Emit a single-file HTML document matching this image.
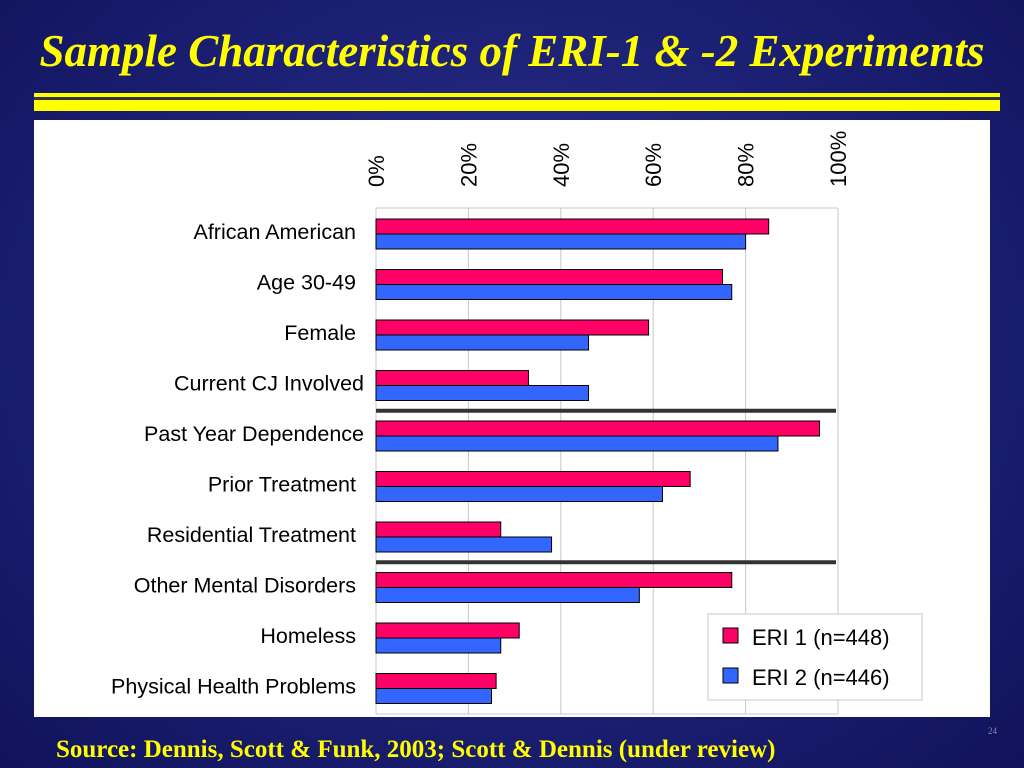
<!DOCTYPE html>
<html><head><meta charset="utf-8"><style>
html,body{margin:0;padding:0;width:1024px;height:768px;overflow:hidden;background:#1c1c6c;}
#slide{position:relative;width:1024px;height:768px;background:radial-gradient(ellipse at 50% 45%,#2c3590 0%,#1b1f72 60%,#10125a 100%);}
#title{position:absolute;left:0;top:25px;width:1024px;text-align:center;font-family:"Liberation Serif",serif;font-style:italic;font-weight:bold;font-size:45px;color:#ffff00;white-space:nowrap;}
#source{position:absolute;left:56px;top:736px;font-family:"Liberation Serif",serif;font-weight:bold;font-size:25px;color:#ffff00;white-space:nowrap;}
#pagenum{position:absolute;left:988px;top:726px;font-family:"Liberation Serif",serif;font-size:9px;color:#8888aa;}
svg{position:absolute;left:0;top:0;}
</style></head><body>
<div id="slide">
<div id="title">Sample Characteristics of ERI-1 &amp; -2 Experiments</div>
<svg id="chart" width="1024" height="768">
<rect x="34" y="93" width="966" height="4" fill="#ffff00"/>
<rect x="34" y="97" width="966" height="3" fill="#333344"/>
<rect x="34" y="100" width="966" height="11" fill="#ffff00"/>
<rect x="34" y="120" width="956" height="597" fill="#ffffff"/>
<g id="grid"></g><g id="bars"></g><g id="labels"></g>
</svg>
<div id="source">Source: Dennis, Scott &amp; Funk, 2003; Scott &amp; Dennis (under review)</div>
<div id="pagenum">24</div>
</div>
<script>
const categories=["African American","Age 30-49","Female","Current CJ Involved","Past Year Dependence","Prior Treatment","Residential Treatment","Other Mental Disorders","Homeless","Physical Health Problems"];
const eri1=[85,75,59,33,96,68,27,77,31,26];
const eri2=[80,77,46,46,87,62,38,57,27,25];
const ticks=[0,20,40,60,80,100];
const tickLabels=["0%","20%","40%","60%","80%","100%"];
const separatorsAfter=[3,6];
const NS="http://www.w3.org/2000/svg";
const x0=376,x1=838,yTop=208,yBot=714,band=50.5,firstY=219,barH=15;
const xs=v=>x0+(x1-x0)*v/100;
const bandY=i=>firstY+band*i;
function mk(tag,attrs,parent){const e=document.createElementNS(NS,tag);for(const k in attrs)e.setAttribute(k,attrs[k]);parent.appendChild(e);return e;}
const grid=document.getElementById('grid'),bars=document.getElementById('bars'),labels=document.getElementById('labels');
ticks.forEach((t,i)=>{
 const l=mk('line',{x1:xs(t),x2:xs(t),y1:yTop,y2:yBot,stroke:'#c8c8c8','stroke-width':1},grid);
 
 
 const tx=xs(t)+8,ty=187;
 const tl=mk('text',{x:tx,y:ty,transform:`rotate(-90 ${tx} ${ty})`,'font-family':'Liberation Sans, sans-serif','font-size':22,fill:'#000'},grid);
 tl.textContent=tickLabels[i];
 
 
});
const topBorder=mk('line',{x1:x0,x2:x1,y1:yTop,y2:yTop,stroke:'#c8c8c8'},grid);


const botBorder=mk('line',{x1:x0,x2:x1,y1:yBot,y2:yBot,stroke:'#c8c8c8'},grid);


categories.forEach((c,i)=>{
 const y=bandY(i);
 const r=mk('rect',{x:x0,y:y,width:xs(eri1[i])-x0,height:barH,fill:'#ff0066',stroke:'#000','stroke-width':1},bars);
 
 
 const b=mk('rect',{x:x0,y:y+barH,width:xs(eri2[i])-x0,height:barH,fill:'#3366ff',stroke:'#000','stroke-width':1},bars);
 
 
 const t=mk('text',{x:(i==3||i==4)?364:356,y:y+20,'text-anchor':'end','font-family':'Liberation Sans, sans-serif','font-size':21.5,fill:'#000'},labels);
 t.textContent=c;
 
 
});
separatorsAfter.forEach(i=>{
 const y=bandY(i)+barH*2+(band-barH*2)/2;
 const s=mk('line',{x1:x0,x2:836,y1:y,y2:y,stroke:'#333','stroke-width':4},bars);
 
 
});
const lg=mk('g',{},labels);


mk('rect',{x:708,y:614,width:214,height:86,fill:'#fff',stroke:'#c8c8c8'},lg);
[["ERI 1 (n=448)",'#ff0066'],["ERI 2 (n=446)",'#3366ff']].forEach((e,i)=>{
 const y=628+i*40;
 const sw=mk('rect',{x:723,y:y,width:15,height:15,fill:e[1],stroke:'#000'},lg);
 
 
 const t=mk('text',{x:752,y:y+17,'font-family':'Liberation Sans, sans-serif','font-size':22,fill:'#000'},lg);
 t.textContent=e[0];
 
 
});
</script>
</body></html>
